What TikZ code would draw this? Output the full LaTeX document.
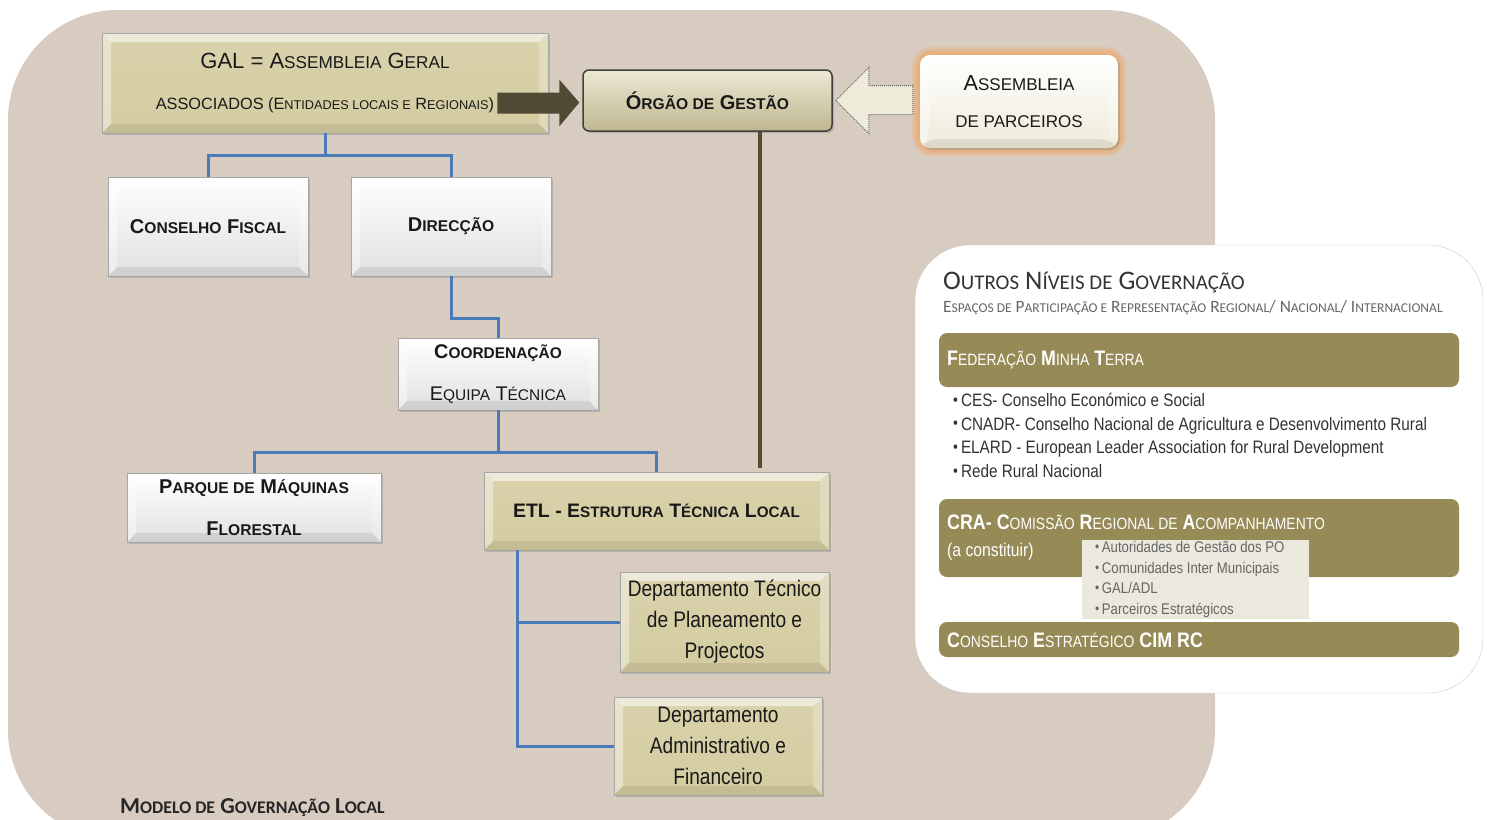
\documentclass[tikz,border=0pt]{standalone}
\usepackage{fontspec}
\setmainfont{Liberation Sans}
\newfontfamily\estreita[FakeStretch=0.85]{Liberation Sans}
\newfontfamily\calibri{Carlito}
\usepackage{graphicx}
\usetikzlibrary{shadows}
\definecolor{fundo}{RGB}{216,203,192}
\definecolor{caqui}{RGB}{212,204,160}
\definecolor{oliva}{RGB}{150,138,86}
\definecolor{azul}{RGB}{74,122,183}
\definecolor{castanho}{RGB}{88,74,48}
\definecolor{seta}{RGB}{80,74,52}
\definecolor{creme}{RGB}{238,235,218}
\definecolor{laranja}{RGB}{240,165,95}
\definecolor{cinza}{RGB}{235,232,222}
\newcommand\pq[1]{\scalebox{0.78}{#1}}
\newcommand\bl{\raisebox{.15ex}{\scalebox{0.9}{•}}\,}

\begin{document}
\begin{tikzpicture}[x=1pt,y=-1pt,
  bisel/.style={path picture={
    \path (path picture bounding box.south west) coordinate (bsw)
          (path picture bounding box.north east) coordinate (bne)
          (path picture bounding box.north west) coordinate (bnw)
          (path picture bounding box.south east) coordinate (bse);
    \fill[white,opacity=.55] (bnw) -- (bne) -- ([shift={(-9pt,-9pt)}]bne) -- ([shift={(9pt,-9pt)}]bnw) -- cycle;
    \fill[white,opacity=.4] (bnw) -- (bsw) -- ([shift={(9pt,9pt)}]bsw) -- ([shift={(9pt,-9pt)}]bnw) -- cycle;
    \fill[black,opacity=.08] (bsw) -- (bse) -- ([shift={(-9pt,9pt)}]bse) -- ([shift={(9pt,9pt)}]bsw) -- cycle;
    \fill[white,opacity=.25] (bne) -- (bse) -- ([shift={(-9pt,9pt)}]bse) -- ([shift={(-9pt,-9pt)}]bne) -- cycle;}},
  caixa/.style={anchor=center, align=center, inner sep=0pt, draw=black!35, text=black!90,
    drop shadow={shadow xshift=2pt,shadow yshift=-2pt,opacity=.35}},
  caquibox/.style={caixa, top color=caqui!88!white, bottom color=caqui, bisel},
  branca/.style={caixa, top color=white, bottom color=black!12, bisel},
  linha/.style={azul, line width=3pt},
  faixa/.style={fill=oliva, rounded corners=8pt, minimum width=520, anchor=center, inner sep=0pt},
  txtfaixa/.style={anchor=west, inner sep=0pt, text=white, font=\estreita\fontsize{21}{24}\selectfont}]
\clip (0,0) rectangle (1487,819);
\fill[white] (0,0) rectangle (1487,819);
\fill[fundo, rounded corners=110pt] (8,10) rectangle (1215,840);

% modelo local
\node[caquibox, minimum width=446, minimum height=100, font=\fontsize{16.3}{19}\selectfont] (gal) at (325,83)
  {{\fontsize{22}{26}\selectfont GAL = A\pq{SSEMBLEIA} G\pq{ERAL}}\\[22pt] ASSOCIADOS (E\pq{NTIDADES LOCAIS E} R\pq{EGIONAIS})};
\node[caixa, rounded corners=6pt, draw=black!75, line width=1.5pt, top color=caqui!45!white, bottom color=caqui!90!black,
  minimum width=249, minimum height=61, font=\bfseries\fontsize{20}{22}\selectfont] (orgao) at (707.5,100.5)
  {Ó\pq{RGÃO DE} G\pq{ESTÃO}};
\foreach \g in {16,12,8,4}
  \draw[laranja, opacity=.25, line width=\g pt, rounded corners=12pt] (920,55) rectangle (1118,148);
\node[caixa, draw=none, rounded corners=10pt, top color=white, bottom color=creme, bisel,
  minimum width=198, minimum height=93, font=\fontsize{17}{19}\selectfont] (parceiros) at (1019,101.5)
  {{\fontsize{21.8}{24}\selectfont A\pq{SSEMBLEIA}}\\[18pt] DE PARCEIROS};

\fill[seta] ([shift={(-3pt,-2pt)}]orgao.west) -- ++(-20,-23) -- ++(0,13) -- ++(-62,0) -- ++(0,21) -- ++(62,0) -- ++(0,13) -- cycle;
\draw[black!60, densely dotted, line width=1pt, fill=creme] ([xshift=3pt]orgao.east) -- ++(33,-33) -- ++(0,18) -- ++(44,0)
  -- ++(0,29) -- ++(-44,0) -- ++(0,19) -- cycle;

\node[branca, minimum width=200, minimum height=99, font=\bfseries\fontsize{20}{22}\selectfont] (fiscal) at (208,226.5)
  {C\pq{ONSELHO} F\pq{ISCAL}};
\node[branca, minimum width=200, minimum height=99, font=\bfseries\fontsize{20}{22}\selectfont] (direccao) at (451,226.5)
  {D\pq{IRECÇÃO}};
\node[branca, minimum width=200, minimum height=72, font=\fontsize{19.8}{22}\selectfont] (coord) at (498,374)
  {\textbf{C\pq{OORDENAÇÃO}}\\[20pt] E\pq{QUIPA} T\pq{ÉCNICA}};
\node[branca, minimum width=254, minimum height=69, font=\bfseries\fontsize{20}{22}\selectfont] (parque) at (254,507.5)
  {P\pq{ARQUE DE} M\pq{ÁQUINAS}\\[20pt] F\pq{LORESTAL}};
\node[caquibox, minimum width=345, minimum height=78, font=\bfseries\fontsize{19.5}{22}\selectfont] (etl) at (656.5,511)
  {ETL - E\pq{STRUTURA} T\pq{ÉCNICA} L\pq{OCAL}};
\node[caquibox, minimum width=209, minimum height=100, font=\estreita\fontsize{22.5}{31}\selectfont] (dep1) at (724.5,622)
  {Departamento Técnico\\de Planeamento e\\Projectos};
\node[caquibox, minimum width=208, minimum height=98, font=\estreita\fontsize{22.5}{31}\selectfont] (dep2) at (718,746)
  {Departamento\\Administrativo e\\Financeiro};

\draw[linha] (gal.south) -- ++(0,22) -| (fiscal.north);
\draw[linha] (gal.south) -- ++(0,22) -| (direccao.north);
\draw[linha] (direccao.south) -- ++(0,42) -| (coord.north);
\draw[linha] (coord.south) -- ++(0,42) -| (parque.north);
\draw[linha] (coord.south) -- ++(0,42) -| (etl.north);
\draw[linha] ([xshift=34pt]etl.south west) |- (dep1.west);
\draw[linha] ([xshift=34pt]etl.south west) |- (dep2.west);
\draw[castanho, line width=4pt] ([xshift=52pt]orgao.south) -- ([xshift=52pt,yshift=4pt]orgao.south |- etl.north);

\node[anchor=west, inner sep=0pt, text=black!85, font=\calibri\bfseries\fontsize{22.8}{24}\selectfont] (titulo local) at (120,808)
  {M\pq{ODELO DE} G\pq{OVERNAÇÃO} L\pq{OCAL}};

% outros niveis
\draw[black!20, fill=white, rounded corners=55pt] (915,245) rectangle (1483,693);
\node[anchor=west, inner sep=0pt, text=black!80, font=\calibri\fontsize{26.8}{28}\selectfont] (titulo outros) at (943,283)
  {O\pq{UTROS} N\pq{ÍVEIS DE} G\pq{OVERNAÇÃO}};
\node[anchor=west, inner sep=0pt, text=black!60, font=\calibri\fontsize{17.3}{18}\selectfont] (subtitulo) at (943,308)
  {E\pq{SPAÇOS DE} P\pq{ARTICIPAÇÃO E} R\pq{EPRESENTAÇÃO} R\pq{EGIONAL}/ N\pq{ACIONAL}/ I\pq{NTERNACIONAL}};

\node[faixa, minimum height=54] (federacao) at (1199,360) {};
\node[txtfaixa] (federacao txt) at (947,360) {\textbf{F}\pq{EDERAÇÃO} \textbf{M}\pq{INHA} \textbf{T}\pq{ERRA}};
\node[anchor=west, inner sep=0pt, align=left, text=black!80, font=\estreita\fontsize{18}{23.7}\selectfont] (lista federacao) at (953,435.5)
  {\bl CES- Conselho Económico e Social\\
   \bl CNADR- Conselho Nacional de Agricultura e Desenvolvimento Rural\\
   \bl ELARD - European Leader Association for Rural Development\\
   \bl Rede Rural Nacional};

\node[faixa, minimum height=78] (cra) at (1199,538) {};
\node[txtfaixa] (cra txt) at (947,522) {\textbf{CRA- C}\pq{OMISSÃO} \textbf{R}\pq{EGIONAL DE} \textbf{A}\pq{COMPANHAMENTO}};
\node[txtfaixa, font=\estreita\fontsize{18.5}{20}\selectfont] (cra obs) at (947,552) {(a constituir)};
\node[fill=cinza, anchor=center, minimum width=227, minimum height=79, inner sep=0pt] (cra caixa) at (1195.5,579.5) {};
\node[anchor=west, inner sep=0pt, align=left, text=black!60, font=\estreita\fontsize{15.5}{20.5}\selectfont] (cra lista) at (1095,579.5)
  {\bl Autoridades de Gestão dos PO\\
   \bl Comunidades Inter Municipais\\
   \bl GAL/ADL\\
   \bl Parceiros Estratégicos};

\node[faixa, minimum height=35] (cim) at (1199,639.5) {};
\node[txtfaixa] (cim txt) at (947,640) {\textbf{C}\pq{ONSELHO} \textbf{E}\pq{STRATÉGICO} \textbf{CIM RC}};
\end{tikzpicture}
\end{document}
